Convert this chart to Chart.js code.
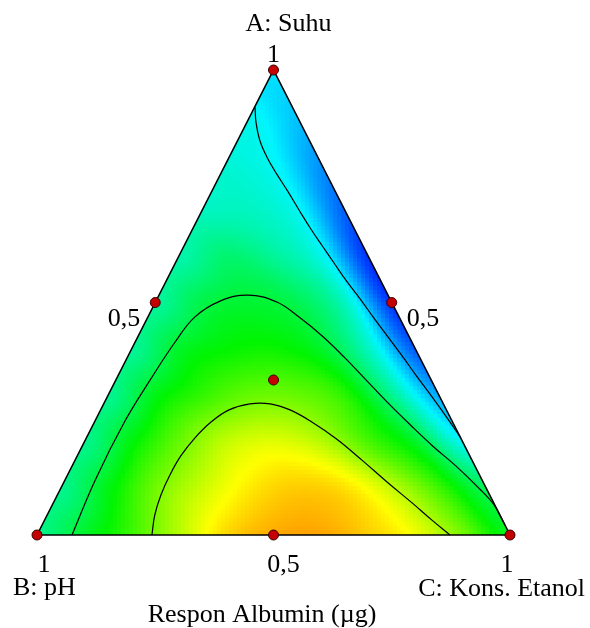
<!DOCTYPE html>
<html>
<head>
<meta charset="utf-8">
<script src="https://cdn.jsdelivr.net/npm/chart.js@4/dist/chart.umd.min.js"></script>
<style>
  html, body { margin: 0; padding: 0; background: #fff; }
</style>
</head>
<body>
<canvas id="tern" width="590" height="628"></canvas>
<script>
// relative response, ternary grid step 0.1
// row = A (Suhu) 0 .. 1, column = C (Kons. Etanol) 0 .. 1-A ; B = 1-A-C
var N = 10;
var responGrid = [
  [0.36, 0.46, 0.56, 0.68, 0.79, 0.835, 0.84, 0.80, 0.74, 0.62, 0.47],
  [0.36, 0.48, 0.61, 0.70, 0.77, 0.80, 0.78, 0.69, 0.56, 0.41],
  [0.36, 0.49, 0.60, 0.69, 0.72, 0.68, 0.57, 0.46, 0.26],
  [0.355, 0.48, 0.55, 0.60, 0.60, 0.54, 0.36, 0.17],
  [0.35, 0.46, 0.50, 0.51, 0.46, 0.31, 0.09],
  [0.345, 0.43, 0.45, 0.42, 0.31, 0.05],
  [0.33, 0.39, 0.35, 0.27, 0.05],
  [0.31, 0.31, 0.26, 0.10],
  [0.29, 0.258, 0.15],
  [0.265, 0.20],
  [0.23]
];

// contour lines, in plot coords (x = C + A/2, y = A)
var contourLow = [[0.461,0.920],[0.463,0.888],[0.471,0.849],[0.486,0.813],[0.507,0.776],[0.531,0.738],
  [0.554,0.699],[0.579,0.658],[0.603,0.622],[0.628,0.585],[0.653,0.548],[0.683,0.508],[0.712,0.467],
  [0.742,0.426],[0.772,0.385],[0.801,0.344],[0.831,0.303],[0.860,0.262],[0.896,0.209]];
var contourMid = [[0.074,0.000],[0.123,0.118],[0.186,0.245],[0.239,0.333],[0.292,0.415],[0.334,0.469],
  [0.387,0.503],[0.446,0.516],[0.507,0.501],[0.556,0.467],[0.603,0.428],[0.649,0.383],[0.696,0.333],
  [0.742,0.284],[0.789,0.237],[0.837,0.191],[0.886,0.148],[0.932,0.103],[0.966,0.065],[0.989,0.022]];
var contourHigh = [[0.243,0.000],[0.249,0.043],[0.262,0.086],[0.281,0.129],[0.304,0.170],[0.334,0.209],
  [0.368,0.243],[0.406,0.269],[0.450,0.282],[0.493,0.282],[0.535,0.269],[0.581,0.243],[0.634,0.206],
  [0.687,0.161],[0.740,0.114],[0.793,0.069],[0.835,0.032],[0.873,0.000]];

// design points (A, C)
var designA = [1, 0, 0, 0.5, 0.5, 0, 1/3];
var designC = [0, 0, 1, 0, 0.5, 0.5, 1/3];

var axisTitles = ['A: Suhu', 'B: pH', 'C: Kons. Etanol'];
var tickLabels = ['1', '0,5'];
var chartTitle = 'Respon Albumin (\u00b5g)';

function toXY(a, c) { return { x: c + a / 2, y: a }; }
function pairs(list) { return list.map(function (p) { return { x: p[0], y: p[1] }; }); }

var rampStops = [[0,0,255],[0,245,255],[0,245,0],[255,255,0],[255,0,0]];
function rampColor(v) {
  v = Math.max(0, Math.min(1, v));
  var t = v * 4, k = Math.min(3, Math.floor(t)), f = t - k;
  var a = rampStops[k], b = rampStops[k + 1];
  return 'rgb(' + Math.round(a[0] + (b[0]-a[0])*f) + ',' + Math.round(a[1] + (b[1]-a[1])*f) + ',' + Math.round(a[2] + (b[2]-a[2])*f) + ')';
}

// grid lookup by (A index, B index); linear extension below A=0, edge value past B=0 and C=0
function gv(i, k) {
  if (i < 0) return 2 * gv(0, k) - gv(1, k);
  if (k < 0) k = 0;
  if (i > N) i = N;
  if (i + k > N) k = N - i;
  return responGrid[i][N - i - k];
}
function cr(p0, p1, p2, p3, t) {
  return 0.5 * (2*p1 + (p2 - p0)*t + (2*p0 - 5*p1 + 4*p2 - p3)*t*t + (3*p1 - p0 - 3*p2 + p3)*t*t*t);
}
function surface(A, C) {
  A = Math.max(0, Math.min(1, A));
  C = Math.max(0, Math.min(1 - A, C));
  var B = Math.max(0, 1 - A - C);
  var a = A * N, b = B * N, i = Math.min(Math.floor(a), N - 1), k = Math.min(Math.floor(b), N - 1);
  var fa = a - i, fb = b - k, col = [];
  for (var di = -1; di <= 2; di++) {
    col.push(cr(gv(i+di, k-1), gv(i+di, k), gv(i+di, k+1), gv(i+di, k+2), fb));
  }
  return cr(col[0], col[1], col[2], col[3], fa);
}

var heatPlugin = {
  id: 'heat',
  beforeDatasetsDraw: function (chart) {
    var xs = chart.scales.x, ys = chart.scales.y, ctx = chart.ctx, area = chart.chartArea;
    var pA = toXY(1, 0), pB = toXY(0, 0), pC = toXY(0, 1);
    ctx.save();
    ctx.beginPath();
    ctx.moveTo(xs.getPixelForValue(pB.x), ys.getPixelForValue(pB.y));
    ctx.lineTo(xs.getPixelForValue(pC.x), ys.getPixelForValue(pC.y));
    ctx.lineTo(xs.getPixelForValue(pA.x), ys.getPixelForValue(pA.y));
    ctx.closePath();
    ctx.clip();
    var step = 4;
    for (var py = Math.floor(area.top); py < area.bottom; py += step) {
      for (var px = Math.floor(area.left); px < area.right; px += step) {
        var x = xs.getValueForPixel(px + step / 2), y = ys.getValueForPixel(py + step / 2);
        var A = y, C = x - y / 2, B = 1 - A - C;
        if (B < -0.03 || C < -0.03 || A < -0.03) continue;
        ctx.fillStyle = rampColor(surface(A, C));
        ctx.fillRect(px, py, step, step);
      }
    }
    ctx.restore();
  }
};

var textPlugin = {
  id: 'texts',
  afterDraw: function (chart) {
    var xs = chart.scales.x, ys = chart.scales.y, ctx = chart.ctx;
    function P(a, c) { var p = toXY(a, c); return { x: xs.getPixelForValue(p.x), y: ys.getPixelForValue(p.y) }; }
    var pA = P(1, 0), pB = P(0, 0), pC = P(0, 1), mL = P(0.5, 0), mR = P(0.5, 0.5), mB = P(0, 0.5);
    ctx.save();
    ctx.fillStyle = '#000';
    ctx.font = '26px "Liberation Serif", "Times New Roman", serif';
    ctx.textBaseline = 'alphabetic';
    function put(t, x, y, al) { ctx.textAlign = al; ctx.fillText(t, x, y); }
    put(axisTitles[0], pA.x + 15, 31, 'center');
    put(tickLabels[0], pA.x, pA.y - 8, 'center');
    put(tickLabels[1], mL.x - 15, mL.y + 23, 'right');
    put(tickLabels[1], mR.x + 15, mR.y + 23, 'left');
    put(tickLabels[0], pB.x + 7, pB.y + 37, 'center');
    put(tickLabels[1], mB.x + 10, mB.y + 37, 'center');
    put(tickLabels[0], pC.x - 3, pC.y + 37, 'center');
    put(axisTitles[1], 13, pB.y + 60, 'left');
    put(axisTitles[2], 585, pC.y + 61, 'right');
    put(chartTitle, 262, 622, 'center');
    ctx.restore();
  }
};

var designPts = designA.map(function (a, k) { return toXY(a, designC[k]); });
var outline = [toXY(0, 0), toXY(0, 1), toXY(1, 0), toXY(0, 0)];

function contourSet(pts) {
  return { type: 'line', data: pairs(pts), borderColor: '#000', borderWidth: 1.2, pointRadius: 0,
           tension: 0.4, fill: false, clip: false, order: 2 };
}

new Chart(document.getElementById('tern'), {
  type: 'scatter',
  data: {
    datasets: [
      { data: designPts, pointRadius: 5, pointBackgroundColor: '#c40000', pointBorderColor: '#3a0000',
        pointBorderWidth: 1, showLine: false, clip: false, order: 0 },
      { type: 'line', data: outline, borderColor: '#000', borderWidth: 1.6, pointRadius: 0,
        tension: 0, fill: false, clip: false, order: 1 },
      contourSet(contourLow),
      contourSet(contourMid),
      contourSet(contourHigh)
    ]
  },
  options: {
    responsive: false,
    animation: false,
    events: [],
    layout: { padding: { left: 37, right: 80, top: 70, bottom: 93 } },
    scales: {
      x: { type: 'linear', min: 0, max: 1, display: false },
      y: { type: 'linear', min: 0, max: 1, display: false }
    },
    plugins: { legend: { display: false }, tooltip: { enabled: false } }
  },
  plugins: [heatPlugin, textPlugin]
});
</script>
</body>
</html>
